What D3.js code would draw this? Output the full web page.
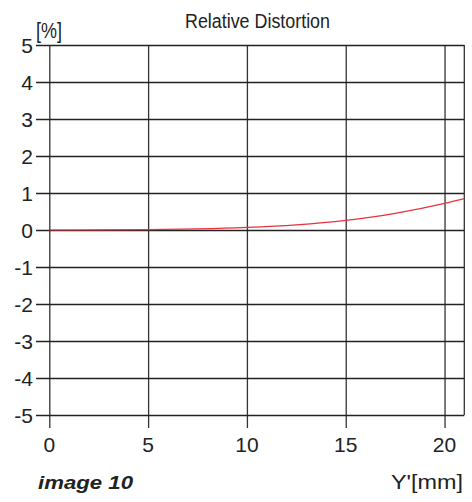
<!DOCTYPE html>
<html>
<head>
<meta charset="utf-8">
<script src="https://cdn.jsdelivr.net/npm/d3@7"></script>
<style>
body { margin: 0; background: #fff; }
text { font-family: "Liberation Sans", Arial, sans-serif; fill: #222; }
</style>
</head>
<body>
<div id="chart"></div>
<script>
// image height in mm vs relative distortion in %
var imgHeight = [0, 2.5, 5, 7.5, 10, 12.5, 15, 17.5, 20, 21];
var distortion = [0, 0.002, 0.01, 0.03, 0.07, 0.14, 0.26, 0.45, 0.72, 0.85];
var xTicks = [0, 5, 10, 15, 20];
var yTicks = [-5, -4, -3, -2, -1, 0, 1, 2, 3, 4, 5];

var width = 472, height = 502;
var plot = {left: 49.3, right: 464.3, top: 45, bottom: 415};

var x = d3.scaleLinear().domain([0, 21]).range([plot.left, plot.right]);
var y = d3.scaleLinear().domain([-5, 5]).range([plot.bottom, plot.top]);

var svg = d3.select("#chart").append("svg")
	.attr("width", width)
	.attr("height", height);

// vertical grid, running down past the frame as ticks
svg.append("g")
	.attr("transform", "translate(0," + plot.top + ")")
	.call(d3.axisBottom(x).tickValues(xTicks).tickSize(plot.bottom - plot.top + 13).tickFormat(""))
	.call(function(g) {
		g.select(".domain").remove();
		g.selectAll("line").attr("stroke", "#333").attr("stroke-width", 1.3);
	});

// horizontal grid, running left past the frame
svg.append("g")
	.attr("transform", "translate(" + plot.right + ",0)")
	.call(d3.axisLeft(y).tickValues(yTicks).tickSize(plot.right - 36).tickFormat(""))
	.call(function(g) {
		g.select(".domain").remove();
		g.selectAll("line").attr("stroke", "#222").attr("stroke-width", 1.5);
	});

// right border
svg.append("line")
	.attr("x1", plot.right).attr("x2", plot.right)
	.attr("y1", plot.top).attr("y2", plot.bottom)
	.attr("stroke", "#333").attr("stroke-width", 1.3);

// tick labels
svg.selectAll(".ylab").data(yTicks).enter().append("text")
	.attr("class", "ylab")
	.attr("x", 33)
	.attr("y", function(d) { return y(d) + 8; })
	.attr("text-anchor", "end")
	.style("font-size", "21px")
	.text(function(d) { return d; });

svg.selectAll(".xlab").data(xTicks).enter().append("text")
	.attr("class", "xlab")
	.attr("x", function(d) { return x(d); })
	.attr("y", 452)
	.attr("text-anchor", "middle")
	.style("font-size", "21px")
	.text(function(d) { return d; });

// distortion curve
var line = d3.line()
	.x(function(d, i) { return x(imgHeight[i]); })
	.y(function(d) { return y(d); })
	.curve(d3.curveMonotoneX);

svg.append("path")
	.datum(distortion)
	.attr("d", line)
	.attr("fill", "none")
	.attr("stroke", "#e8313c")
	.attr("stroke-width", 1.2);

// titles
svg.append("text")
	.attr("x", 185).attr("y", 28)
	.attr("textLength", 145)
	.attr("lengthAdjust", "spacingAndGlyphs")
	.style("font-size", "20px")
	.text("Relative Distortion");

svg.append("text")
	.attr("x", 36).attr("y", 38)
	.attr("textLength", 26)
	.attr("lengthAdjust", "spacingAndGlyphs")
	.style("font-size", "22px")
	.text("[%]");

svg.append("text")
	.attr("x", 391).attr("y", 489)
	.attr("textLength", 72)
	.attr("lengthAdjust", "spacingAndGlyphs")
	.style("font-size", "20px")
	.text("Y'[mm]");

svg.append("text")
	.attr("x", 38).attr("y", 489)
	.attr("textLength", 95)
	.attr("lengthAdjust", "spacingAndGlyphs")
	.style("font-size", "19px")
	.style("font-weight", "bold")
	.style("font-style", "italic")
	.text("image 10");
</script>
</body>
</html>
